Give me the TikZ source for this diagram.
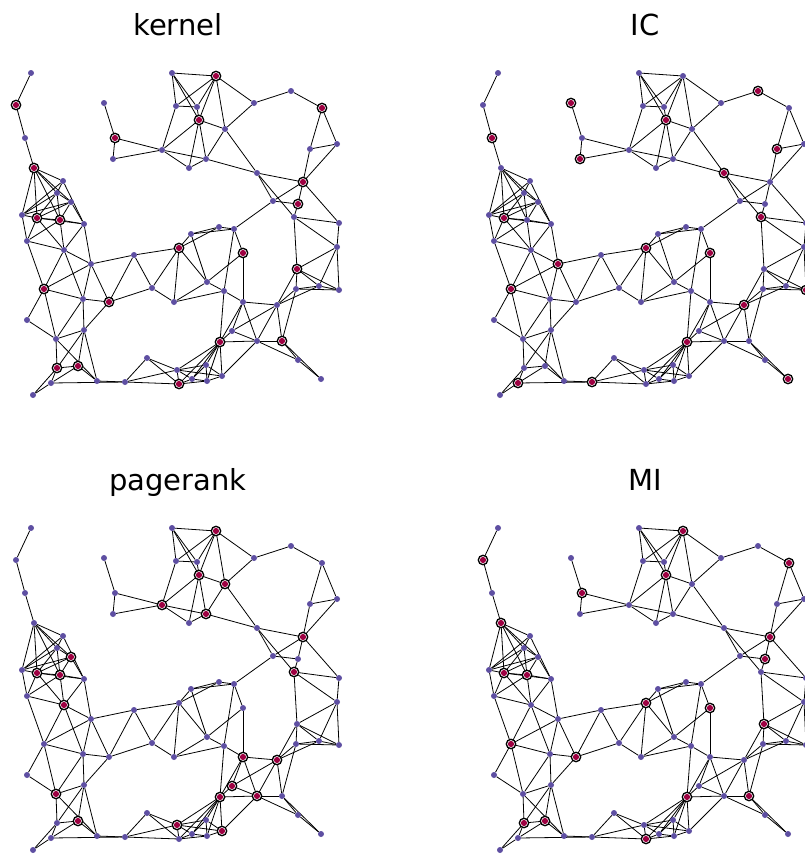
\documentclass[tikz,border=0pt]{standalone}
\usepackage{fontspec}
\setmainfont{DejaVu Sans}
\usepackage{xcolor}
\usepackage{tikz}

\pgfdeclarelayer{bg}
\pgfsetlayers{bg,main}

\definecolor{dotcol}{HTML}{5E4FA2}
\definecolor{hlcol}{HTML}{9E0142}

% node positions (pixels of the first panel)
\def\nodelist{1/31/73, 2/16/105, 3/25/138, 4/34/168, 5/104/103, 6/115/138, 7/113/159,
 8/63/181, 9/172/73, 10/216/76, 11/176/106, 12/197/107, 13/199/120, 14/225/129,
 15/162/150, 16/206/159, 17/189/168, 18/254/103, 19/291/91, 20/322/108, 21/310/149,
 22/337/144, 23/257/173, 24/303/182, 25/57/193, 26/71/202, 27/22/215, 28/37/218,
 29/60/220, 30/84/224, 31/27/241, 32/64/250, 33/91/264, 34/44/289, 35/191/234,
 36/219/227, 37/234/229, 38/179/248, 39/243/253, 40/134/255, 41/207/282, 42/152/288,
 43/224/291, 44/273/201, 45/298/204, 46/294/217, 47/339/223, 48/337/247, 49/297/269,
 50/296/289, 51/319/286, 52/339/290, 53/243/302, 54/277/305, 55/257/341, 56/282/341,
 57/298/360, 58/321/379, 59/83/299, 60/109/302, 61/27/320, 62/84/330, 63/56/339,
 64/57/368, 65/78/366, 66/51/383, 67/97/381, 68/125/382, 69/33/395, 70/174/302,
 71/232/331, 72/220/342, 73/147/358, 74/177/370, 75/206/365, 76/222/376, 77/192/379,
 78/207/381, 79/179/384}

% connectors
\def\edgelist{1/2, 2/3, 3/4, 4/8, 4/25, 4/26, 4/27, 4/28, 4/29,
 5/6, 6/7, 6/15, 7/15,
 9/10, 9/11, 9/12, 9/13, 10/11, 10/12, 10/13, 10/14, 10/18, 11/12, 11/15, 12/13,
 13/14, 13/15, 13/16, 13/17, 14/16, 14/18, 14/23, 15/16, 15/17, 16/17, 16/23,
 18/19, 19/20, 20/21, 20/22, 21/22, 21/24, 22/24, 23/24, 23/44, 23/46,
 24/44, 24/45, 24/47, 44/45, 37/44, 45/46, 46/47, 46/48, 46/49, 47/48,
 48/49, 48/51, 48/52, 49/50, 49/51, 49/52, 49/54, 50/51, 51/52, 50/52, 50/54, 51/54,
 8/25, 8/27, 8/30, 25/26, 25/27, 25/28, 25/29, 26/27, 26/28, 26/29, 26/30,
 27/28, 27/31, 28/29, 28/30, 28/31, 28/32, 29/30, 29/31, 29/32, 30/32, 30/33,
 31/32, 31/34, 32/34, 33/34, 32/33, 32/59, 33/59, 33/60, 33/40,
 34/59, 34/61, 34/63, 59/60, 59/62, 59/63, 60/62, 40/60, 42/60,
 61/63, 62/63, 63/64, 63/67, 62/64, 62/65, 62/67, 64/65, 64/66, 65/66, 65/67,
 66/69, 64/69, 66/68, 67/68, 68/73, 68/74, 68/79,
 38/40, 35/36, 35/37, 36/37, 35/38, 36/38, 35/41, 38/41, 38/42, 38/70, 40/42,
 39/41, 41/43, 37/39, 37/43, 39/53, 42/70, 41/70, 43/70, 43/53, 43/72,
 53/54, 53/55, 53/71, 53/72, 54/55, 54/56, 54/71, 50/56, 55/56, 55/57, 56/57,
 56/58, 57/58, 55/72, 71/72, 55/71, 55/76,
 72/74, 72/75, 72/76, 72/77, 72/78, 72/79, 73/74, 73/79, 74/75, 74/76, 74/77,
 74/79, 75/76, 75/77, 75/78, 77/78, 76/78, 77/79, 78/79}

% one panel: prefix, x shift, y shift, highlighted nodes, title
\newcommand{\graphpanel}[5]{%
  \begin{scope}[shift={(#2,#3)}]
    \foreach \i/\x/\y in \nodelist
      \node[dot] (#1-\i) at (\x,\y) {};
    \begin{pgfonlayer}{bg}
      \foreach \a/\b in \edgelist
        \draw[edge] (#1-\a) -- (#1-\b);
    \end{pgfonlayer}
    \foreach \i in {#4}
      \node[hl] (#1-h\i) at (#1-\i) {};
    \node[ttl] (#1-title) at (178,35) {#5};
  \end{scope}}

\begin{document}
\begin{tikzpicture}[
    x=1pt, y=-1pt,
    % styles of the dots, rings and titles
    dot/.style = {circle, fill=dotcol, inner sep=0pt, minimum size=6pt},
    hl/.style = {circle, draw=black, line width=1.3pt, fill=white, inner sep=0pt,
      minimum size=9.4pt,
      path picture={\fill[hlcol] (path picture bounding box.center) circle (3.1pt);}},
    edge/.style = {line width=0.8pt},
    ttl/.style = {font=\fontsize{29}{34}\selectfont, anchor=base}
]

    \useasboundingbox (0,0) rectangle (804,854);
    \begin{pgfonlayer}{bg}
      \fill[white] (0,0) rectangle (804,854);
    \end{pgfonlayer}

    % 1. top row
    \graphpanel{k}{0}{0}{2,4,6,10,13,20,24,45,28,29,38,39,49,34,60,72,56,64,65,79}{kernel}
    \graphpanel{ic}{467}{0}{3,5,7,13,19,21,23,46,28,33,38,39,34,54,72,68,66,58,52}{IC}

    % 2. bottom row
    \graphpanel{pr}{0}{455}{10,13,14,15,16,24,26,28,29,32,46,53,54,71,72,55,63,65,74,76}{pagerank}
    \graphpanel{mi}{467}{455}{2,4,6,10,13,20,24,45,28,29,38,39,34,60,49,72,56,64,65,79}{MI}

\end{tikzpicture}
\end{document}
